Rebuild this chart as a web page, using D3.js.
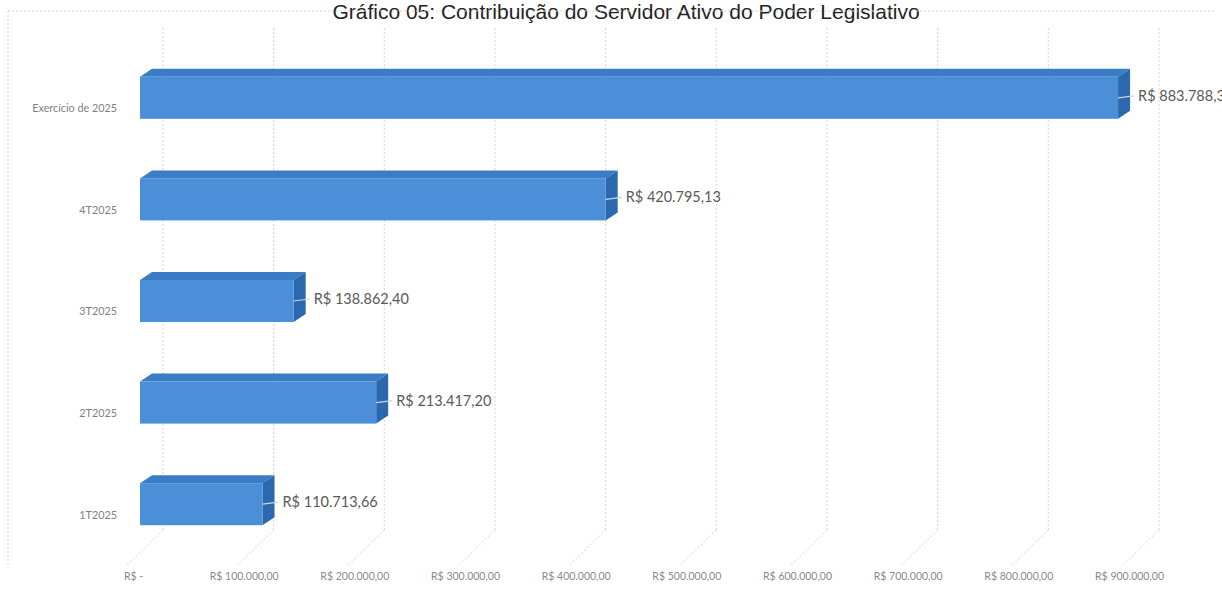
<!DOCTYPE html>
<html><head><meta charset="utf-8">
<script src="https://cdn.jsdelivr.net/npm/d3@7"></script>
<style>body{margin:0;background:#fff;}svg{display:block;}</style>
</head><body><svg id="c" width="1222" height="591"></svg>
<script>
const title = "Gráfico 05: Contribuição do Servidor Ativo do Poder Legislativo";
const categories = ["Exercício de 2025","4T2025","3T2025","2T2025","1T2025"];
const values = [883788.39, 420795.13, 138862.40, 213417.20, 110713.66];
const valueLabels = ["R$ 883.788,39","R$ 420.795,13","R$ 138.862,40","R$ 213.417,20","R$ 110.713,66"];
const tickValues = [0,100000,200000,300000,400000,500000,600000,700000,800000,900000];
const tickLabels = ["R$ -","R$ 100.000,00","R$ 200.000,00","R$ 300.000,00","R$ 400.000,00","R$ 500.000,00","R$ 600.000,00","R$ 700.000,00","R$ 800.000,00","R$ 900.000,00"];

const svg = d3.select("#c");
const x = d3.scaleLinear().domain([0,900000]).range([140,1136]);
const y = d3.scaleBand().domain(categories).range([47,555]).padding(0);
const barH = 42, dx = 12, dy = -8, backOff = 23;
const font = "Lato, 'Open Sans', sans-serif";

// title
svg.append("text").attr("x",626).attr("y",19).attr("text-anchor","middle")
  .attr("font-family","'Liberation Sans', Arial, sans-serif").attr("font-size",21)
  .attr("fill","#222").text(title);

// frame (dotted)
const grid = svg.append("g").attr("stroke","#d4d4d4").attr("stroke-width",1).attr("stroke-dasharray","2,2").attr("fill","none");
grid.append("line").attr("x1",8).attr("x2",1216).attr("y1",11).attr("y2",11);
grid.append("line").attr("x1",8).attr("x2",8).attr("y1",11).attr("y2",566);

// back wall gridlines + floor diagonals
tickValues.forEach(v => {
  const bx = x(v)+backOff;
  grid.append("line").attr("x1",bx).attr("x2",bx).attr("y1",28).attr("y2",530);
  grid.append("line").attr("x1",bx).attr("x2",bx-36).attr("y1",530).attr("y2",565);
});

// axis tick labels
const ax = d3.axisBottom(x).tickValues(tickValues).tickFormat((d,i)=>tickLabels[i]).tickSize(0);
const axg = svg.append("g").attr("transform","translate(-7,571)").call(ax);
axg.select(".domain").remove();
axg.selectAll("text").attr("font-family",font).attr("font-size",10.5).attr("fill","#8a8a8a").attr("dy","0.6em");

// category labels
const ay = d3.axisLeft(y).tickSize(0);
const ayg = svg.append("g").attr("transform","translate(120,11)").call(ay);
ayg.select(".domain").remove();
ayg.selectAll("text").attr("font-family",font).attr("font-size",10.8).attr("fill","#7f7f7f").attr("dx",0);

// bars
const data = categories.map((c,i)=>({c, v:values[i], lab:valueLabels[i]}));
const bars = svg.append("g").selectAll("g").data(data).join("g");
bars.each(function(d){
  const g = d3.select(this);
  const x0 = x(0), x1 = x(d.v);
  const yt = y(d.c) + (y.bandwidth()-barH)/2, yb = yt + barH;
  g.append("path").attr("d",`M${x0},${yt}L${x0+dx},${yt+dy}L${x1+dx},${yt+dy}L${x1},${yt}Z`).attr("fill","#3b7cc6");
  g.append("path").attr("d",`M${x1},${yt}L${x1+dx},${yt+dy}L${x1+dx},${yb+dy}L${x1},${yb}Z`).attr("fill","#2b68ad");
  g.append("rect").attr("x",x0).attr("y",yt).attr("width",x1-x0).attr("height",barH).attr("fill","#4a8fd8");
  const ly = yt + barH/2 - 2;
  g.append("line").attr("x1",x1).attr("x2",x1+dx+4).attr("y1",ly+2).attr("y2",ly).attr("stroke","#c9d6e3").attr("stroke-width",1.2);
  g.append("text").attr("x",x1+dx+8).attr("y",ly).attr("dy","0.35em")
    .attr("font-family",font).attr("font-size",14.5).attr("fill","#595959").text(d.lab);
});
</script></body></html>
